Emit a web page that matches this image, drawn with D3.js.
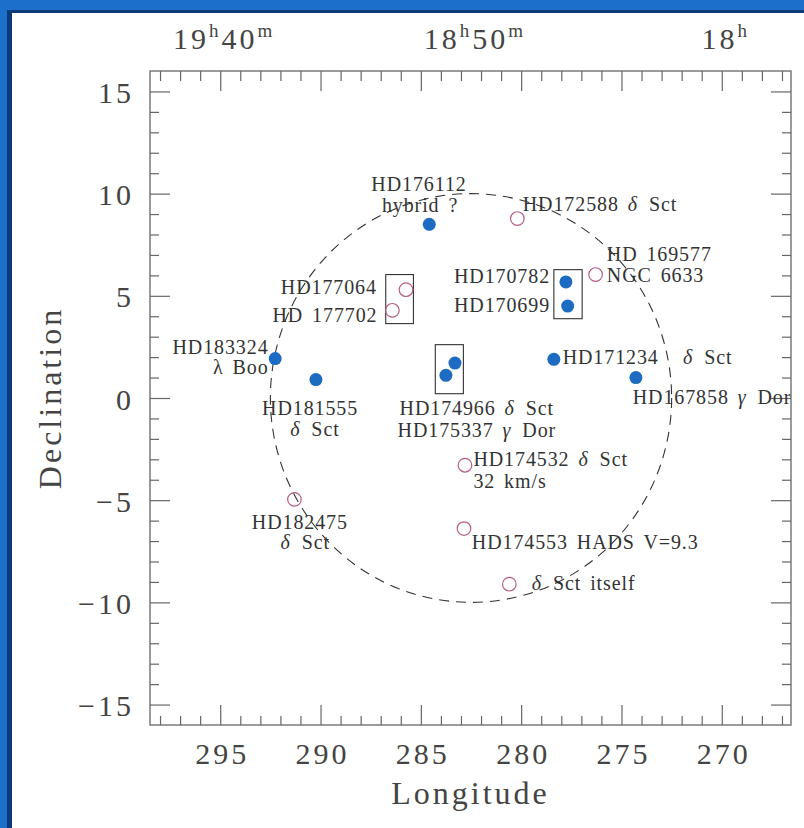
<!DOCTYPE html>
<html>
<head>
  <style>
    body {
      margin: 0;
    }
    text {
      font-family: "Liberation Serif", serif;
      fill: #333;
    }
    .tick line {
      stroke: #666;
      stroke-width: 1.2;
    }
    .tick text {
      font-size: 30px;
      letter-spacing: 3px;
      fill: #444;
    }
  </style>
</head>
<body>
  <script src="https://d3js.org/d3.v7.min.js"></script>
  <script>
    var width = 804, height = 828;

    // filled = observed targets, open = other stars
    var filledStars = [
      [284.58, 8.50], [277.77, 5.68], [277.68, 4.50], [278.37, 1.89],
      [274.28, 1.00], [283.30, 1.71], [283.75, 1.11], [292.26, 1.93],
      [290.23, 0.90]
    ];
    var openStars = [
      [280.19, 8.78], [276.29, 6.04], [285.74, 5.30], [286.42, 4.29],
      [291.30, -4.96], [282.80, -3.29], [282.85, -6.39], [280.59, -9.11]
    ];

    // [lon0, dec0, lon1, dec1]
    var boxes = [
      [286.75, 6.04, 285.37, 3.64],
      [284.28, 2.61, 282.88, 0.21],
      [278.37, 6.28, 276.96, 3.88]
    ];

    // [text, lon, dec, anchor]
    var labels = [
      ["HD176112", 285.09, 10.15, "middle"],
      ["hybrid ?", 285.04, 9.10, "middle"],
      ["HD172588 δ Sct", 279.92, 9.15, "start"],
      ["HD 169577", 275.73, 6.72, "start"],
      ["NGC 6633", 275.73, 5.66, "start"],
      ["HD170782", 278.56, 5.63, "end"],
      ["HD170699", 278.56, 4.21, "end"],
      ["HD171234", 277.93, 1.65, "start"],
      ["δ Sct", 271.93, 1.65, "start"],
      ["HD167858 γ Dor", 274.44, -0.27, "start"],
      ["HD174966 δ Sct", 286.06, -0.85, "start"],
      ["HD175337 γ Dor", 286.16, -1.91, "start"],
      ["HD177064", 287.19, 5.11, "end"],
      ["HD 177702", 287.16, 3.72, "end"],
      ["HD183324", 292.59, 2.17, "end"],
      ["λ Boo", 292.59, 1.16, "end"],
      ["HD181555", 290.52, -0.85, "middle"],
      ["δ Sct", 290.28, -1.87, "middle"],
      ["HD182475", 291.03, -6.39, "middle"],
      ["δ Sct", 290.76, -7.37, "middle"],
      ["HD174532 δ Sct", 282.38, -3.33, "start"],
      ["32 km/s", 282.38, -4.38, "start"],
      ["HD174553 HADS V=9.3", 282.46, -7.37, "start"],
      ["δ Sct itself", 279.47, -9.41, "start"]
    ];

    var lonMajor = d3.range(270, 296, 5);
    var lonMinor = d3.range(267, 299, 1).filter(d => d % 5 != 0);
    var decMajor = d3.range(-15, 16, 5);
    var decMinor = d3.range(-15, 16, 1).filter(d => d % 5 != 0);
    // right ascension, minutes after 18h
    var raLabels = [[100, "19", "h", "40", "m"], [50, "18", "h", "50", "m"], [0, "18", "h", "", ""]];
    var raMajor = d3.range(0, 101, 20);
    var raMinor = d3.range(-12, 113, 4).filter(d => d % 20 != 0);

    var circleCenter = [282.5, 0], circleRadius = 10;

    var L = 150, R = 791, T = 71, B = 725;

    var x = d3.scaleLinear().domain([298.5, 266.55]).range([L, R]);
    var y = d3.scaleLinear().domain([-16, 16]).range([B, T]);
    var ra = d3.scaleLinear().domain([114, -13.8]).range([L, R]);

    var svg = d3.select("body").append("svg")
        .attr("width", width)
        .attr("height", height);

    // blue frame
    svg.append("rect").attr("width", width).attr("height", height).attr("fill", "#1d6fcc");
    svg.append("rect").attr("x", 7).attr("y", 10).attr("width", width).attr("height", height).attr("fill", "#0b3a78");
    svg.append("rect").attr("x", 12).attr("y", 13).attr("width", width).attr("height", height).attr("fill", "#fff");

    // axes, ticks pointing inward
    function ticks(axis, values, size, g, fmt){
      g.call(axis.tickValues(values).tickSizeInner(-size).tickSizeOuter(0).tickFormat(fmt || ""));
      g.select(".domain").remove();
      return g;
    }

    var bottom = ticks(d3.axisBottom(x), lonMajor, 20, svg.append("g").attr("transform", "translate(0," + B + ")"), d3.format("d"));
    bottom.selectAll("text").attr("dy", null).attr("y", 39).attr("dx", 1.5);
    ticks(d3.axisBottom(x), lonMinor, 9, svg.append("g").attr("transform", "translate(0," + B + ")"));

    var left = ticks(d3.axisLeft(y), decMajor, 20, svg.append("g").attr("transform", "translate(" + L + ",0)"), d3.format("d"));
    left.selectAll("text").attr("dy", null).attr("x", -16).attr("dy", 11);
    ticks(d3.axisLeft(y), decMinor, 9, svg.append("g").attr("transform", "translate(" + L + ",0)"));

    ticks(d3.axisRight(y), decMajor, 20, svg.append("g").attr("transform", "translate(" + R + ",0)"));
    ticks(d3.axisRight(y), decMinor, 9, svg.append("g").attr("transform", "translate(" + R + ",0)"));

    ticks(d3.axisTop(ra), raMajor, 20, svg.append("g").attr("transform", "translate(0," + T + ")"));
    ticks(d3.axisTop(ra), raMinor, 10, svg.append("g").attr("transform", "translate(0," + T + ")"));

    svg.append("rect")
        .attr("x", L).attr("y", T)
        .attr("width", R - L).attr("height", B - T)
        .attr("fill", "none")
        .attr("stroke", "#666")
        .attr("stroke-width", 1.3);

    // RA labels with superscripts
    var raText = svg.selectAll(".ra")
        .data(raLabels)
      .enter().append("text")
        .attr("class", "ra")
        .attr("x", d => ra(d[0]) + 4)
        .attr("y", 49)
        .attr("text-anchor", "middle")
        .style("font-size", "30px")
        .style("letter-spacing", "3px")
        .style("fill", "#444");
    raText.each(function(d){
      var t = d3.select(this);
      t.append("tspan").text(d[1]);
      t.append("tspan").attr("dy", -12).style("font-size", "19px").text(d[2]);
      t.append("tspan").attr("dy", 12).text(d[3]);
      if (d[4]) t.append("tspan").attr("dy", -12).style("font-size", "19px").text(d[4]);
    });

    // axis titles
    svg.append("text")
        .attr("x", (L + R) / 2)
        .attr("y", 804)
        .attr("text-anchor", "middle")
        .style("font-size", "32px")
        .style("letter-spacing", "3px")
        .style("fill", "#444")
        .text("Longitude");

    svg.append("text")
        .attr("transform", "translate(61," + y(0) + ") rotate(-90)")
        .attr("text-anchor", "middle")
        .style("font-size", "32px")
        .style("letter-spacing", "3px")
        .style("fill", "#444")
        .text("Declination");

    // dashed circle
    svg.append("ellipse")
        .attr("cx", x(circleCenter[0]))
        .attr("cy", y(circleCenter[1]))
        .attr("rx", x(circleCenter[0]) - x(circleCenter[0] + circleRadius))
        .attr("ry", y(circleCenter[1] - circleRadius) - y(circleCenter[1]))
        .attr("fill", "none")
        .attr("stroke", "#333")
        .attr("stroke-width", 1.1)
        .attr("stroke-dasharray", "10,7");

    svg.selectAll(".box")
        .data(boxes)
      .enter().append("rect")
        .attr("x", d => x(d[0]))
        .attr("y", d => y(d[1]))
        .attr("width", d => x(d[2]) - x(d[0]))
        .attr("height", d => y(d[3]) - y(d[1]))
        .attr("fill", "none")
        .attr("stroke", "#333")
        .attr("stroke-width", 1.1);

    svg.selectAll(".filled")
        .data(filledStars)
      .enter().append("circle")
        .attr("cx", d => x(d[0]))
        .attr("cy", d => y(d[1]))
        .attr("r", 6.5)
        .attr("fill", "#1d6cc2");

    svg.selectAll(".open")
        .data(openStars)
      .enter().append("circle")
        .attr("cx", d => x(d[0]))
        .attr("cy", d => y(d[1]))
        .attr("r", 6.8)
        .attr("fill", "none")
        .attr("stroke", "#b85d86")
        .attr("stroke-width", 1.2);

    var label = svg.selectAll(".label")
        .data(labels)
      .enter().append("text")
        .attr("x", d => x(d[1]))
        .attr("y", d => y(d[2]))
        .attr("text-anchor", d => d[3])
        .style("font-size", "20px")
        .style("letter-spacing", "0.9px")
        .style("word-spacing", "3px");
    // greek δ and γ are slanted in the original
    label.each(function(d){
      var t = d3.select(this);
      d[0].split(/([δγ])/).forEach(s => {
        if (!s) return;
        var sp = t.append("tspan").text(s);
        if (s == "δ" || s == "γ") sp.style("font-style", "italic").style("letter-spacing", "3px");
      });
    });
  </script>
</body>
</html>
